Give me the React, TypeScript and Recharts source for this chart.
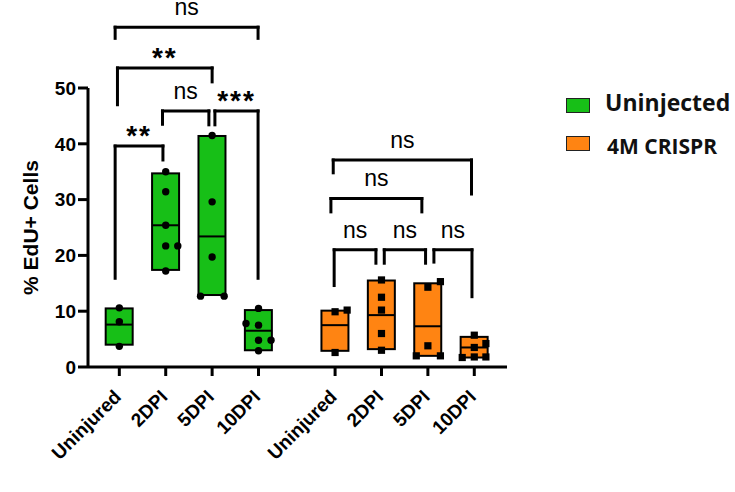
import { ComposedChart, Bar, Cell, Scatter, XAxis, YAxis, ReferenceLine, Legend } from "recharts";

const groups = ["Uninjected", "4M CRISPR"];
const groupColors = ["#17BF17", "#FF8412"];
const timepoints = ["Uninjured", "2DPI", "5DPI", "10DPI"];
const yTicks = [0, 10, 20, 30, 40, 50];

// floating boxes: min / max / median per timepoint
const uninjectedMin = [4.0, 17.4, 12.9, 3.0];
const uninjectedMax = [10.5, 34.7, 41.4, 10.2];
const uninjectedMedian = [7.6, 25.4, 23.4, 6.5];
const crisprMin = [2.9, 3.2, 2.0, 1.7];
const crisprMax = [10.1, 15.5, 15.0, 5.4];
const crisprMedian = [7.5, 9.3, 7.3, 3.5];

// individual points: [jitter, value]
const uninjectedPoints = [
  [[0, 10.6], [0, 8.1], [0, 3.7]],
  [[0, 35.0], [0, 31.4], [0, 25.4], [0, 21.7], [0.26, 21.7], [0, 17.2]],
  [[0, 41.5], [0, 29.6], [0, 19.7], [-0.25, 12.7], [0.26, 12.7]],
  [[0, 10.5], [-0.27, 7.8], [0, 7.5], [0, 4.8], [0.27, 4.8], [0, 2.9]],
];
const crisprPoints = [
  [[0, 9.9], [0.26, 10.2], [0, 2.6]],
  [[0, 15.6], [0, 12.5], [0, 10.2], [0, 6.0], [0, 3.0]],
  [[0, 14.3], [0.27, 15.3], [0, 3.8], [-0.25, 2.0], [0.27, 2.0]],
  [[0, 5.7], [0.25, 4.2], [0, 3.5], [0, 1.8], [-0.26, 1.7], [0.25, 1.8]],
];

// significance brackets (from/to = category index 0..7)
const brackets = [
  { from: 0, to: 1, nl: -0.09, nr: -0.06, top: 39.6, lowL: 15.9, lowR: 37.1, label: "**" },
  { from: 1, to: 2, nl: -0.07, nr: -0.07, top: 45.9, lowL: 43.5, lowR: 43.4, label: "ns" },
  { from: 2, to: 3, nl: 0.06, nr: -0.01, top: 45.9, lowL: 43.4, lowR: 15.9, label: "***" },
  { from: 0, to: 2, nl: -0.04, nr: 0, top: 53.6, lowL: 47.0, lowR: 51.1, label: "**" },
  { from: 0, to: 3, nl: -0.09, nr: -0.01, top: 60.9, lowL: 58.9, lowR: 58.9, label: "ns" },
  { from: 4, to: 5, nl: -0.02, nr: -0.12, top: 21.0, lowL: 14.6, lowR: 18.6, label: "ns" },
  { from: 5, to: 6, nl: 0.06, nr: -0.05, top: 21.0, lowL: 18.6, lowR: 18.6, label: "ns" },
  { from: 6, to: 7, nl: 0.13, nr: -0.05, top: 21.0, lowL: 18.8, lowR: 12.6, label: "ns" },
  { from: 4, to: 6, nl: -0.09, nr: -0.13, top: 30.2, lowL: 27.8, lowR: 27.8, label: "ns" },
  { from: 4, to: 7, nl: -0.04, nr: -0.06, top: 37.1, lowL: 34.8, lowR: 31.0, label: "ns" },
];

const GROUP_GAP = 0.65;
const BOX_W = 27;
const FONT = "'Liberation Sans', Arial, sans-serif";

const boxSets = [
  { min: uninjectedMin, max: uninjectedMax, med: uninjectedMedian, pts: uninjectedPoints },
  { min: crisprMin, max: crisprMax, med: crisprMedian, pts: crisprPoints },
];

const positions: number[] = [];
const rows: any[] = [];
const points: any[][] = [[], []];
boxSets.forEach((set, g) => {
  timepoints.forEach((_, i) => {
    const pos = g * (timepoints.length + GROUP_GAP) + i + 1;
    positions.push(pos);
    rows.push({ pos, range: [set.min[i], set.max[i]], median: set.med[i], group: g });
    set.pts[i].forEach(([j, v]) => points[g].push({ pos: pos + j, val: v }));
  });
});

// box centred on the bar's x position, fixed width
const BoxShape = (props: any) => {
  const { x, y, width, height, fill } = props;
  const cx = x + width / 2;
  return <rect x={cx - BOX_W / 2} y={y} width={BOX_W} height={height} fill={fill} stroke="#000" strokeWidth={2} />;
};

const MedianLine = (props: any) => {
  const { cx, cy } = props;
  return <line x1={cx - BOX_W / 2} x2={cx + BOX_W / 2} y1={cy} y2={cy} stroke="#000" strokeWidth={2} />;
};

const Dot = (props: any) => <circle cx={props.cx} cy={props.cy} r={3.7} fill="#000" />;
const Square = (props: any) => <rect x={props.cx - 3.6} y={props.cy - 3.6} width={7.2} height={7.2} fill="#000" />;

const XTick = (props: any) => {
  const { x, y, payload, index } = props;
  let idx = positions.indexOf(payload.value);
  if (idx < 0) idx = index;
  return (
    <g transform={`translate(${x + 3},${y + 20})`}>
      <text transform="rotate(-45)" textAnchor="end" fontSize={19} fontWeight={700} fill="#000" fontFamily={FONT}>
        {timepoints[idx % timepoints.length]}
      </text>
    </g>
  );
};

const LegendBox = () => (
  <div style={{ position: "relative", width: 170, height: 80, fontFamily: "'Open Sans', sans-serif", color: "#111" }}>
    {groups.map((name, g) => (
      <div key={name}>
        <div
          style={{
            position: "absolute", left: 6, top: g === 0 ? 10 : 48, width: 24, height: 15,
            background: groupColors[g], border: "1.5px solid #222", boxSizing: "border-box",
          }}
        />
        <div
          style={{
            position: "absolute", left: g === 0 ? 45 : 47, top: g === 0 ? 3 : 47.7, lineHeight: 1,
            fontSize: g === 0 ? 23 : 21, fontWeight: 700, whiteSpace: "nowrap",
          }}
        >
          {name}
        </div>
      </div>
    ))}
  </div>
);

export default function App() {
  return (
    <div style={{ position: "absolute", left: 0, top: 0, background: "#fff" }}>
      <ComposedChart
        width={735}
        height={492}
        data={rows}
        margin={{ top: 88, right: 228, bottom: 20, left: 28 }}
        style={{ fontFamily: FONT }}
      >
        <XAxis
          dataKey="pos"
          type="number"
          domain={[0.325, 9.355]}
          ticks={positions}
          interval={0}
          tick={<XTick />}
          tickSize={9}
          height={105}
          axisLine={{ stroke: "#000", strokeWidth: 3 }}
          tickLine={{ stroke: "#000", strokeWidth: 3 }}
        />
        <YAxis
          type="number"
          domain={[0, 50]}
          ticks={yTicks}
          width={60}
          tickSize={10}
          axisLine={{ stroke: "#000", strokeWidth: 3 }}
          tickLine={{ stroke: "#000", strokeWidth: 3 }}
          tick={{ fill: "#000", fontSize: 19, fontWeight: 700, fontFamily: FONT }}
          label={{
            value: "% EdU+ Cells",
            angle: -90,
            position: "insideLeft",
            offset: 3,
            style: { textAnchor: "middle", fontSize: 21, fontWeight: 700, fill: "#000", fontFamily: FONT },
          }}
        />
        <Bar dataKey="range" shape={BoxShape} isAnimationActive={false}>
          {rows.map((r, i) => (
            <Cell key={i} fill={groupColors[r.group]} />
          ))}
        </Bar>
        <Scatter data={rows} dataKey="median" shape={MedianLine} isAnimationActive={false} />
        <Scatter data={points[0]} dataKey="val" shape={Dot} isAnimationActive={false} />
        <Scatter data={points[1]} dataKey="val" shape={Square} isAnimationActive={false} />
        {brackets.flatMap((b, k) => {
          const x1 = positions[b.from] + b.nl;
          const x2 = positions[b.to] + b.nr;
          const ns = b.label === "ns";
          const common = { stroke: "#000", strokeWidth: 3, strokeLinecap: "square" as const, ifOverflow: "visible" as const };
          return [
            <ReferenceLine key={`l${k}`} segment={[{ x: x1, y: b.lowL }, { x: x1, y: b.top }]} {...common} />,
            <ReferenceLine
              key={`t${k}`}
              segment={[{ x: x1, y: b.top }, { x: x2, y: b.top }]}
              {...common}
              label={{
                value: b.label,
                position: "top",
                offset: ns ? 12 : 1,
                fill: "#000",
                fontSize: ns ? 23 : 28,
                fontWeight: ns ? 400 : 700,
                fontFamily: FONT,
                letterSpacing: ns ? 0 : 2,
              }}
            />,
            <ReferenceLine key={`r${k}`} segment={[{ x: x2, y: b.top }, { x: x2, y: b.lowR }]} {...common} />,
          ];
        })}
        <Legend
          layout="vertical"
          align="center"
          verticalAlign="middle"
          content={() => <LegendBox />}
          wrapperStyle={{ left: 560, top: 88, width: 170 }}
        />
      </ComposedChart>
    </div>
  );
}
